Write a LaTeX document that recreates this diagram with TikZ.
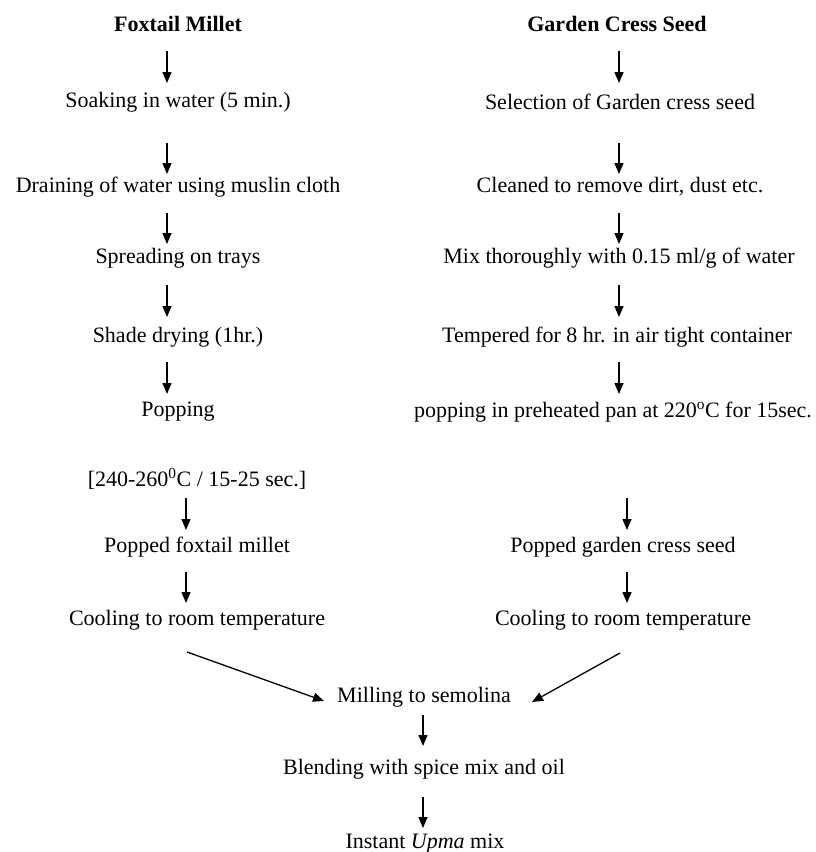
\documentclass[tikz,border=0pt]{standalone}
\usepackage{fontspec}
\setmainfont{Liberation Serif}
\usetikzlibrary{arrows.meta}
\begin{document}
\begin{tikzpicture}[x=1pt,y=-1pt,
  every node/.style={font=\fontsize{22}{26}\selectfont, inner sep=0pt},
  head/.style={font=\fontsize{22}{26}\selectfont\bfseries},
  arr/.style={line width=1.3pt, -{Triangle[length=11pt,width=9pt]}}]
\useasboundingbox (0,0) rectangle (816,852);
% left column
\node[head] (fox) at (178,24) {Foxtail Millet};
\node (soak) at (178,102) {Soaking in water (5 min.)};
\node (drain) at (178,187) {Draining of water using muslin cloth};
\node (spread) at (178,258) {Spreading on trays};
\node (shade) at (178,337) {Shade drying (1hr.)};
\node (popL) at (178,412) {Popping};
\node (cond) at (197,479) {[240-260\textsuperscript{0}C / 15-25 sec.]};
\node (poppedL) at (197,547) {Popped foxtail millet};
\node (coolL) at (197,620) {Cooling to room temperature};
% right column
\node[head] (gcs) at (617,24) {Garden Cress Seed};
\node (sel) at (620,102) {Selection of Garden cress seed};
\node (clean) at (620,187) {Cleaned to remove dirt, dust etc.};
\node (mix) at (619,258) {Mix thoroughly with 0.15 ml/g of water};
\node (temp) at (617,337) {Tempered for 8 hr. in air tight container};
\node (popR) at (613,412) {popping in preheated pan at 220\textsuperscript{o}C for 15sec.};
\node (poppedR) at (623,547) {Popped garden cress seed};
\node (coolR) at (623,620) {Cooling to room temperature};
% merged
\node (mill) at (424,697) {Milling to semolina};
\node (blend) at (424,769) {Blending with spice mix and oil};
\node (upma) at (425,844) {Instant \textit{Upma} mix};
% arrow ends
\foreach \n/\x/\a/\b in {L1/167/51/83, L2/167/143/174, L3/167/213/244, L4/167/285/317, L5/167/362/394,
  L6/186/498/530, L7/186/572/603,
  R1/619/51/83, R2/619/143/174, R3/619/213/244, R4/619/285/317, R5/619/362/394,
  R6/627/498/530, R7/627/572/603,
  M1/423/715/746, M2/423/797/828}{
  \coordinate (s\n) at (\x,\a);
  \coordinate (e\n) at (\x,\b);
  \draw[arr] (s\n) -- (e\n);
}
\coordinate (sDL) at (187,652);
\coordinate (eDL) at (324,701);
\coordinate (sDR) at (620,653);
\coordinate (eDR) at (532,702);
\draw[arr] (sDL) -- (eDL);
\draw[arr] (sDR) -- (eDR);
\end{tikzpicture}
\end{document}
